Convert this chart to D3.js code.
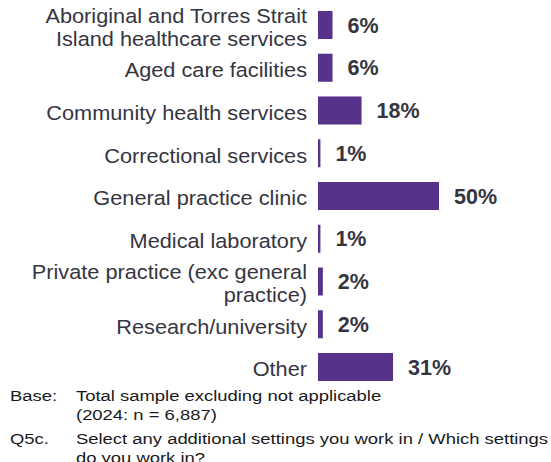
<!DOCTYPE html>
<html>
<head>
<meta charset="utf-8">
<script src="https://cdn.jsdelivr.net/npm/d3@7"></script>
<style>
  html, body { margin: 0; padding: 0; background: #fff; }
  svg { display: block; }
</style>
</head>
<body>
<svg id="chart" width="551" height="462"></svg>
<script>
// Settings respondents work in (% of total sample excluding not applicable)
const categories = [
  ["Aboriginal and Torres Strait", "Island healthcare services"],
  ["Aged care facilities"],
  ["Community health services"],
  ["Correctional services"],
  ["General practice clinic"],
  ["Medical laboratory"],
  ["Private practice (exc general", "practice)"],
  ["Research/university"],
  ["Other"]
];
const values = [6, 6, 18, 1, 50, 1, 2, 2, 31];
const footnoteLabels = ["Base:", "Q5c."];
const footnoteTexts = [
  ["Total sample excluding not applicable", "(2024: n = 6,887)"],
  ["Select any additional settings you work in / Which settings", "do you work in?"]
];

const svg = d3.select("#chart");
const font = "'Liberation Sans', Arial, sans-serif";
const barColor = "#56328a";
const textColor = "#35353f";

const x0 = 318;
const x = d3.scaleLinear().domain([0, 50]).range([x0, 439]);
const keys = categories.map((c, i) => i);
const y = d3.scaleBand()
  .domain(keys)
  .range([3.6, 388.4])
  .paddingInner(0.345)
  .paddingOuter(0.1725);

const g = svg.append("g");

// Bars
g.selectAll("rect.bar")
  .data(values)
  .join("rect")
  .attr("class", "bar")
  .attr("x", x0)
  .attr("y", (d, i) => y(i))
  .attr("width", d => x(d) - x0)
  .attr("height", y.bandwidth())
  .attr("fill", barColor);

// Value labels
g.selectAll("text.val")
  .data(values)
  .join("text")
  .attr("class", "val")
  .attr("x", d => x(d) + 15)
  .attr("y", (d, i) => y(i) + y.bandwidth() / 2)
  .attr("dy", "0.36em")
  .attr("font-family", font)
  .attr("font-weight", "bold")
  .attr("font-size", 21.5)
  .attr("fill", textColor)
  .text(d => d + "%");

// Category labels (right-aligned, may wrap to two lines)
const lineH = 23;
const csx = 1.06;
g.selectAll("text.cat")
  .data(categories)
  .join("text")
  .attr("class", "cat")
  .attr("text-anchor", "end")
  .attr("transform", `scale(${csx},1)`)
  .attr("font-family", font)
  .attr("font-size", 20.5)
  .attr("fill", textColor)
  .each(function(lines, i) {
    const cy = y(i) + y.bandwidth() / 2 + 2;
    const top = cy - (lines.length - 1) * lineH / 2;
    d3.select(this).selectAll("tspan")
      .data(lines)
      .join("tspan")
      .attr("x", 307 / csx)
      .attr("y", (l, j) => top + j * lineH)
      .attr("dy", "0.36em")
      .text(l => l);
  });

// Footnotes (set slightly wide, as in the report layout)
const sx = 1.19;
const fn = svg.append("g")
  .attr("transform", `scale(${sx},1)`)
  .attr("font-family", font)
  .attr("font-size", 15.5)
  .attr("fill", "#1a1a1a");
const fnBase = 401;
const fnLine = 19.5;
const groupGap = 4;
let row = 0;
footnoteLabels.forEach((lab, k) => {
  const off = k * groupGap;
  fn.append("text").attr("x", 10 / sx).attr("y", fnBase + off + row * fnLine).text(lab);
  footnoteTexts[k].forEach(t => {
    fn.append("text").attr("x", 76 / sx).attr("y", fnBase + off + row * fnLine).text(t);
    row++;
  });
});
</script>
</body>
</html>
